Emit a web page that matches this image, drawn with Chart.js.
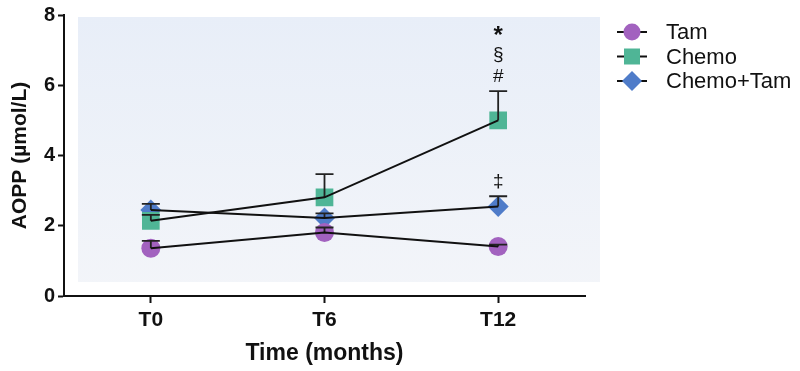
<!DOCTYPE html>
<html>
<head>
<meta charset="utf-8">
<script src="https://cdn.jsdelivr.net/npm/chart.js@4.4.1/dist/chart.umd.min.js"></script>
<style>
  html, body { margin: 0; padding: 0; background: #fff; }
  #wrap { width: 800px; height: 371px; }
</style>
</head>
<body>
<div id="wrap"><canvas id="c" width="800" height="371"></canvas></div>
<script>
// data
const timePoints = ['T0', 'T6', 'T12'];
const yTicks = [0, 2, 4, 6, 8];
const seriesNames = ['Tam', 'Chemo', 'Chemo+Tam'];
const tamMean = [1.36, 1.81, 1.41];
const tamSem = [0.21, 0.14, 0.05];
const chemoMean = [2.14, 2.81, 5.0];
const chemoSem = [0.17, 0.66, 0.83];
const comboMean = [2.45, 2.22, 2.55];
const comboSem = [0.17, 0.13, 0.29];
// significance marks over T12 (bottom to top)
const chemoMarks = ['#', '§', '*'];
const comboMarks = ['‡'];

const colors = ['#a262bf', '#4fb596', '#4f7cc9'];
const styles = ['circle', 'rect', 'rectRot'];
const radii = [9.5, 12.5, 10.5];
const means = [tamMean, chemoMean, comboMean];
const sems = [tamSem, chemoSem, comboSem];
const marks = [[], chemoMarks, comboMarks];
const FONT = '"Liberation Sans", Arial, Helvetica, sans-serif';

const datasets = [];
seriesNames.forEach((name, i) => {
  // markers first (drawn underneath)
  datasets.push({
    label: name, data: means[i], showLine: false, order: 2,
    pointStyle: styles[i], pointRadius: radii[i], pointHoverRadius: radii[i],
    pointBackgroundColor: colors[i], pointBorderColor: colors[i], pointBorderWidth: 0,
    sem: sems[i], marks: marks[i]
  });
});
seriesNames.forEach((name, i) => {
  // black connecting lines on top
  datasets.push({
    label: name + ' line', data: means[i], order: 0,
    borderColor: '#111', borderWidth: 2, pointRadius: 0, tension: 0, fill: false
  });
});

const bgPlugin = {
  id: 'plotBg',
  beforeDraw(chart) {
    const { ctx, chartArea: a } = chart;
    const g = ctx.createLinearGradient(0, a.top, 0, a.bottom);
    g.addColorStop(0, '#e8eef8');
    g.addColorStop(1, '#f3f5f9');
    ctx.save();
    ctx.fillStyle = g;
    ctx.fillRect(a.left + 14, a.top + 2, a.right - a.left + 1, a.bottom - a.top - 16);
    ctx.restore();
  }
};

const errPlugin = {
  id: 'errBars',
  afterDatasetDraw(chart, args) {
    const ds = chart.data.datasets[args.index];
    if (!ds.sem) return;
    const { ctx, scales: { x, y } } = chart;
    ctx.save();
    ctx.strokeStyle = '#222';
    ctx.lineWidth = 1.8;
    ds.data.forEach((v, j) => {
      const px = x.getPixelForValue(j);
      const top = y.getPixelForValue(v + ds.sem[j]);
      ctx.beginPath();
      ctx.moveTo(px, y.getPixelForValue(v));
      ctx.lineTo(px, top);
      ctx.moveTo(px - 9, top);
      ctx.lineTo(px + 9, top);
      ctx.stroke();
      if (j === ds.data.length - 1 && ds.marks.length) {
        ctx.fillStyle = '#111';
        ctx.textAlign = 'center';
        ctx.textBaseline = 'middle';
        ds.marks.forEach((m, k) => {
          ctx.font = (m === '*' ? 'bold 24px ' : '19px ') + FONT;
          ctx.fillText(m, px, top - 14 - k * 22.5 + (m === '*' ? 4 : 0));
        });
      }
    });
    ctx.restore();
  }
};

const legendPlugin = {
  id: 'sideLegend',
  afterDraw(chart) {
    const { ctx } = chart;
    ctx.save();
    seriesNames.forEach((name, i) => {
      const cy = 32 + i * 24.5, cx = 632;
      ctx.strokeStyle = '#111';
      ctx.lineWidth = 2;
      ctx.beginPath();
      ctx.moveTo(617, cy); ctx.lineTo(647, cy);
      ctx.stroke();
      ctx.fillStyle = colors[i];
      ctx.beginPath();
      if (styles[i] === 'circle') ctx.arc(cx, cy, 8.5, 0, Math.PI * 2);
      else if (styles[i] === 'rect') ctx.rect(cx - 8, cy - 8, 16, 16);
      else { ctx.moveTo(cx, cy - 10); ctx.lineTo(cx + 10, cy); ctx.lineTo(cx, cy + 10); ctx.lineTo(cx - 10, cy); ctx.closePath(); }
      ctx.fill();
      ctx.fillStyle = '#111';
      ctx.font = '22px ' + FONT;
      ctx.textAlign = 'left';
      ctx.textBaseline = 'middle';
      ctx.fillText(name, 666, cy + 1);
    });
    ctx.restore();
  }
};

new Chart(document.getElementById('c'), {
  type: 'line',
  data: { labels: timePoints, datasets },
  options: {
    responsive: false,
    animation: false,
    events: [],
    layout: { padding: { top: 12, right: 215, left: 0, bottom: 0 } },
    plugins: { legend: { display: false }, tooltip: { enabled: false } },
    scales: {
      x: {
        type: 'category', offset: true,
        grid: { display: true, drawOnChartArea: false, offset: false, tickLength: 7, tickColor: '#111', tickWidth: 2 },
        border: { display: true, color: '#111', width: 2 },
        ticks: { color: '#111', padding: 5, font: { family: FONT, size: 21, weight: 'bold' } },
        title: { display: true, text: 'Time (months)', color: '#111', padding: { top: 0, bottom: 4 }, font: { family: FONT, size: 23, weight: 'bold' } },
        afterFit(s) { s.height = 75; }
      },
      y: {
        min: 0, max: 8,
        afterBuildTicks(s) { s.ticks = yTicks.map(v => ({ value: v })); },
        grid: { display: true, drawOnChartArea: false, tickLength: 6, tickColor: '#111', tickWidth: 2 },
        border: { display: true, color: '#111', width: 2 },
        ticks: { color: '#111', padding: 3, font: { family: FONT, size: 20, weight: 'bold' } },
        title: { display: true, text: 'AOPP (µmol/L)', color: '#111', padding: { top: 8, bottom: 0 }, font: { family: FONT, size: 21, weight: 'bold' } },
        afterFit(s) { s.width = 64; }
      }
    }
  },
  plugins: [bgPlugin, errPlugin, legendPlugin]
});
</script>
</body>
</html>
